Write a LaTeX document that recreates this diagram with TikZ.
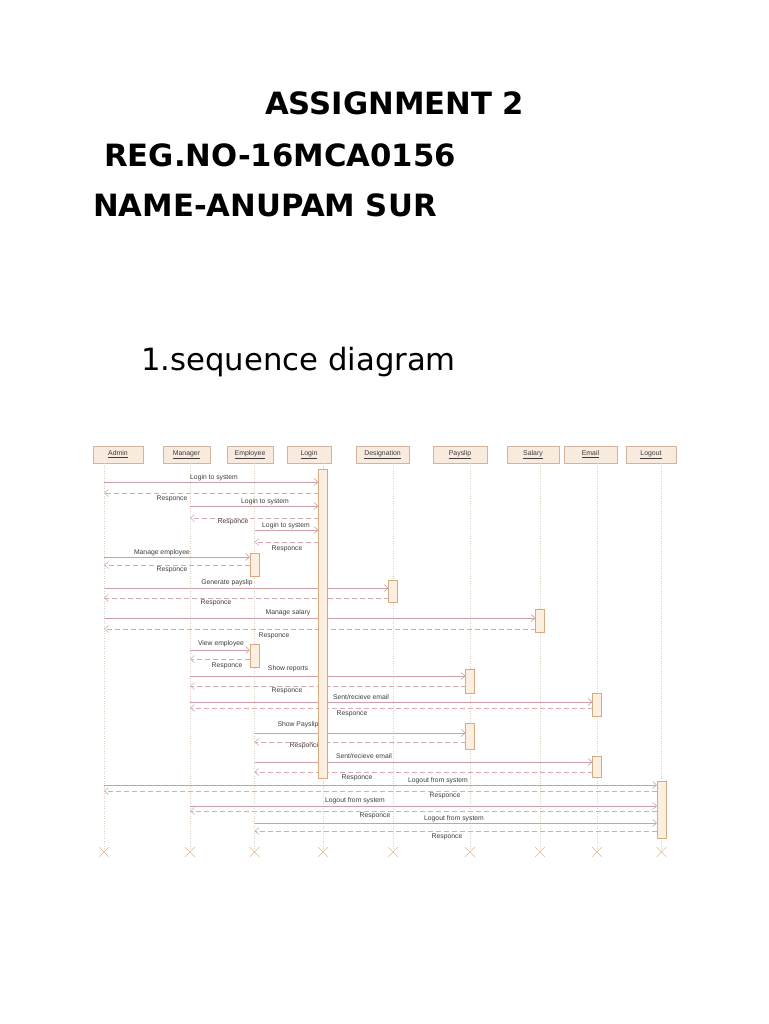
\documentclass[tikz,border=0pt]{standalone}
\usepackage{fontspec}
\setmainfont{DejaVu Sans}
\newfontfamily\lblfont{Liberation Sans}
\usetikzlibrary{arrows.meta}
\definecolor{headfill}{RGB}{249,234,222}
\definecolor{headdraw}{RGB}{208,180,160}
\definecolor{msgcol}{RGB}{205,160,168}
\definecolor{respcol}{RGB}{212,172,176}
\definecolor{lifecol}{RGB}{222,206,190}
\definecolor{actfill}{RGB}{252,239,224}
\definecolor{actdraw}{RGB}{212,172,132}
\definecolor{xcol}{RGB}{218,188,155}
\definecolor{txtcol}{RGB}{60,60,60}
\newcommand\callmsg[6]{%
  \path (0,#3) coordinate (yy);
  \draw[callline] (L#1 |- yy) -- (L#2 |- yy);
  \node[lbl] at (#5,#6) {#4};}
\newcommand\respmsg[6]{%
  \path (0,#3) coordinate (yy);
  \draw[respline] (L#1 |- yy) -- (L#2 |- yy);
  \node[lbl] at (#5,#6) {#4};}
\newcommand\actbar[4]{%
  \node[actbox, minimum height={#4-#3}] (#1) at (#2,{(#3+#4)/2}) {};}
\begin{document}
\begin{tikzpicture}[x=1pt,y=-1pt,
  title/.style={anchor=base west, inner sep=0pt, font=\fontsize{30.7}{36}\selectfont},
  head/.style={draw=headdraw, fill=headfill, line width=0.6pt, minimum height=17pt, inner sep=0pt,
     font=\lblfont\fontsize{6.9}{7}\selectfont, text=txtcol},
  lbl/.style={inner sep=0pt, font=\lblfont\fontsize{6.8}{7}\selectfont, text=txtcol},
  callline/.style={draw=msgcol, line width=0.6pt, shorten >=4.5pt, -{Straight Barb[length=4pt,width=7pt]}},
  respline/.style={draw=respcol, line width=0.6pt, dash pattern=on 5pt off 3pt, shorten <=4.5pt, -{Straight Barb[length=4pt,width=7pt]}},
  lifeline/.style={draw=lifecol, line width=0.6pt, dash pattern=on 1pt off 1.5pt},
  actbox/.style={draw=actdraw, fill=actfill, line width=0.6pt, minimum width=9pt, inner sep=0pt},
  endx/.style={draw=xcol, line width=0.6pt}
]
\useasboundingbox (0,0) rectangle (768,1024);

% titles
\node[title, font=\fontsize{30.7}{36}\selectfont\bfseries] (t1) at (265,115) {ASSIGNMENT 2};
\node[title, font=\fontsize{30.7}{36}\selectfont\bfseries] (t2) at (104,167) {REG.NO-16MCA0156};
\node[title, font=\fontsize{30.7}{36}\selectfont\bfseries] (t3) at (93,217) {NAME-ANUPAM SUR};
\node[title] (t4) at (141,370) {1.sequence diagram};

% header boxes
\node[head, minimum width=50pt] (hAdmin) at (118,454.5) {\underline{Admin}};
\node[head, minimum width=47pt] (hManager) at (186.5,454.5) {\underline{Manager}};
\node[head, minimum width=46pt] (hEmployee) at (250,454.5) {\underline{Employee}};
\node[head, minimum width=44pt] (hLogin) at (309,454.5) {\underline{Login}};
\node[head, minimum width=53pt] (hDesignation) at (382.5,454.5) {\underline{Designation}};
\node[head, minimum width=54pt] (hPayslip) at (460,454.5) {\underline{Payslip}};
\node[head, minimum width=52pt] (hSalary) at (533,454.5) {\underline{Salary}};
\node[head, minimum width=53pt] (hEmail) at (590.5,454.5) {\underline{Email}};
\node[head, minimum width=50pt] (hLogout) at (651,454.5) {\underline{Logout}};

% lifeline coordinates
\coordinate (LAdmin) at (104,463);
\coordinate (LManager) at (190,463);
\coordinate (LEmployee) at (254.5,463);
\coordinate (LLogin) at (323,463);
\coordinate (LDesignation) at (393,463);
\coordinate (LPayslip) at (470,463);
\coordinate (LSalary) at (540,463);
\coordinate (LEmail) at (597,463);
\coordinate (LLogout) at (661.5,463);
\foreach \n in {Admin,Manager,Employee,Login,Designation,Payslip,Salary,Email,Logout}{
  \path (0,852) coordinate (ybot);
  \coordinate (X\n) at (L\n |- ybot);
  \draw[lifeline] (L\n) -- (X\n);
  \draw[endx] ([shift={(-5,-5)}]X\n) -- ([shift={(5,5)}]X\n);
  \draw[endx] ([shift={(-5,5)}]X\n) -- ([shift={(5,-5)}]X\n);
}

% messages
\callmsg{Admin}{Login}{482}{Login to system}{214}{478}
\respmsg{Login}{Admin}{493}{Responce}{172}{499}
\callmsg{Manager}{Login}{506}{Login to system}{265}{502}
\respmsg{Login}{Manager}{518}{Responce}{233}{522}
\callmsg{Employee}{Login}{530}{Login to system}{286}{526}
\respmsg{Login}{Employee}{542}{Responce}{287}{549}
\callmsg{Admin}{Employee}{557}{Manage employee}{162}{553}
\respmsg{Employee}{Admin}{565}{Responce}{172}{570}
\callmsg{Admin}{Designation}{588}{Generate payslip}{227}{583}
\respmsg{Designation}{Admin}{598}{Responce}{216}{603}
\callmsg{Admin}{Salary}{618}{Manage salary}{288}{613}
\respmsg{Salary}{Admin}{629}{Responce}{274}{636}
\callmsg{Manager}{Employee}{650}{View employee}{221}{644}
\respmsg{Employee}{Manager}{659}{Responce}{227}{666}
\callmsg{Manager}{Payslip}{676}{Show reports}{288}{669}
\respmsg{Payslip}{Manager}{686}{Responce}{287}{691}
\callmsg{Manager}{Email}{702}{Sent/recieve email}{361}{697}
\respmsg{Email}{Manager}{708}{Responce}{352}{714}
\callmsg{Employee}{Payslip}{733}{Show Payslip}{298}{725}
\respmsg{Payslip}{Employee}{742}{Responce}{305}{746}
\callmsg{Employee}{Email}{762}{Sent/recieve email}{364}{756}
\respmsg{Email}{Employee}{772}{Responce}{357}{778}
\callmsg{Admin}{Logout}{785}{Logout from system}{438}{781}
\respmsg{Logout}{Admin}{791}{Responce}{445}{796}
\callmsg{Manager}{Logout}{806}{Logout from system}{355}{801}
\respmsg{Logout}{Manager}{811}{Responce}{375}{816}
\callmsg{Employee}{Logout}{823}{Logout from system}{454}{819}
\respmsg{Logout}{Employee}{831}{Responce}{447}{837}

% activation bars
\actbar{aLogin}{323}{469}{778}
\actbar{aEmp1}{254.5}{553}{576}
\actbar{aDes}{393}{580}{602}
\actbar{aSal}{540}{609}{632}
\actbar{aEmp2}{254.5}{644}{667}
\actbar{aPay1}{470}{669}{693}
\actbar{aEmail1}{597}{693}{716}
\actbar{aPay2}{470}{723}{749}
\actbar{aEmail2}{597}{756}{777}
\actbar{aLogout}{661.5}{781}{838}
\end{tikzpicture}
\end{document}
